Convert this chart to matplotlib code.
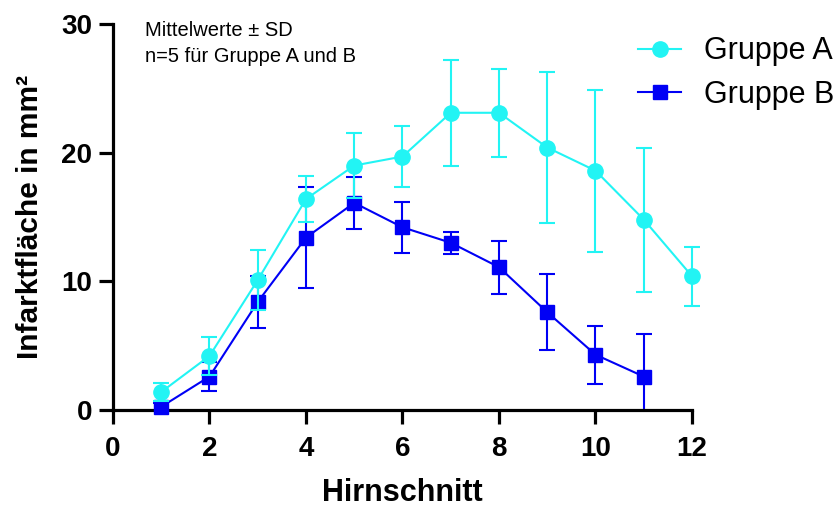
import matplotlib.pyplot as plt
from matplotlib.patches import Rectangle

plt.rcParams['font.family'] = ['Liberation Sans', 'DejaVu Sans']

# Hirnschnitt positions
schnitt_a = [1, 2, 3, 4, 5, 6, 7, 8, 9, 10, 11, 12]
schnitt_b = [1, 2, 3, 4, 5, 6, 7, 8, 9, 10, 11]

# mean infarct area (mm^2) and SD
mean_a = [1.4, 4.2, 10.1, 16.4, 19.0, 19.7, 23.1, 23.1, 20.4, 18.6, 14.8, 10.4]
sd_a = [0.7, 1.5, 2.3, 1.8, 2.5, 2.4, 4.1, 3.4, 5.9, 6.3, 5.6, 2.3]

mean_b = [0.25, 2.6, 8.4, 13.4, 16.1, 14.2, 13.0, 11.1, 7.6, 4.3, 2.6]
sd_b = [0.3, 1.1, 2.0, 3.9, 2.0, 2.0, 0.85, 2.05, 2.95, 2.25, 3.3]

xticks = [0, 2, 4, 6, 8, 10, 12]
yticks = [0, 10, 20, 30]

col_a = '#22F4F4'
col_b = '#0000F5'

fig = plt.figure(figsize=(8.37, 5.09), dpi=100)
ax = fig.add_axes([113/837, 99/509, 579/837, 386/509])

# clip error bars only at the bottom (y=0), not at the right edge
clip = Rectangle((-0.1, 0), 1.2, 1.2, transform=ax.transAxes, visible=False)
ax.add_patch(clip)

eb_b = ax.errorbar(schnitt_b, mean_b, yerr=sd_b, fmt='none', ecolor=col_b,
                   elinewidth=1.5, capsize=6, capthick=1.5, zorder=2)
eb_a = ax.errorbar(schnitt_a, mean_a, yerr=sd_a, fmt='none', ecolor=col_a,
                   elinewidth=1.5, capsize=6, capthick=1.5, zorder=4)
for eb in (eb_a, eb_b):
    for art in eb.lines[1] + eb.lines[2]:
        art.set_clip_path(clip)

# lines + markers
ax.plot(schnitt_b, mean_b, color=col_b, lw=1.5, marker='s', ms=10.5,
        label='Gruppe B', clip_on=False, zorder=3)
ax.plot(schnitt_a, mean_a, color=col_a, lw=1.5, marker='o', ms=11,
        label='Gruppe A', clip_on=False, zorder=5)

ax.set_xlim(0, 12)
ax.set_ylim(0, 30)
ax.set_xticks(xticks)
ax.set_yticks(yticks)

for s in ['top', 'right']:
    ax.spines[s].set_visible(False)
for s in ['left', 'bottom']:
    ax.spines[s].set_linewidth(2.3)
ax.tick_params(width=2.3, length=10, labelsize=20)
ax.tick_params(axis='x', pad=9)
ax.tick_params(axis='y', pad=5)
for lab in ax.get_xticklabels() + ax.get_yticklabels():
    lab.set_fontweight('bold')

ax.set_xlabel('Hirnschnitt', fontsize=22, fontweight='bold', labelpad=11)
ax.set_ylabel('Infarktfläche in mm²', fontsize=21.5, fontweight='bold', labelpad=12)

ax.text(145/837, 1 - 31/509, 'Mittelwerte ± SD', transform=fig.transFigure,
        fontsize=14.5, va='center', ha='left')
ax.text(145/837, 1 - 56/509, 'n=5 für Gruppe A und B', transform=fig.transFigure,
        fontsize=14.5, va='center', ha='left')

handles, labels = ax.get_legend_handles_labels()
fig.legend(handles[::-1], labels[::-1], loc='upper left',
           bbox_to_anchor=(626/837, 1 - 24/509), frameon=False,
           fontsize=22, handlelength=1.4, handletextpad=0.75, labelspacing=0.45,
           borderaxespad=0)

fig.savefig('out.png', dpi=100)
